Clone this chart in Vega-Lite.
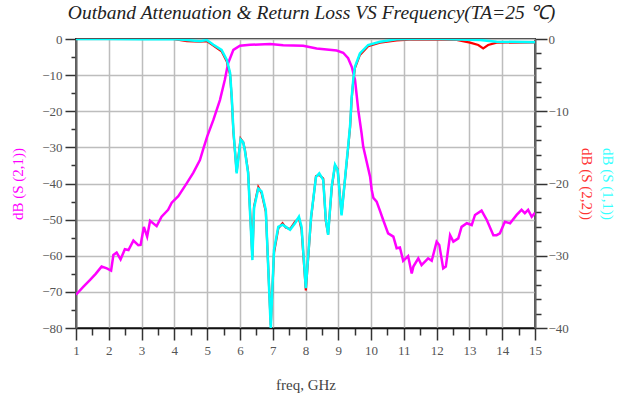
{
  "$schema": "https://vega.github.io/schema/vega-lite/v6.json",
  "width": 459,
  "height": 289,
  "autosize": {"type": "none"},
  "padding": {"left": 76, "top": 39, "right": 91, "bottom": 68},
  "background": "white",
  "title": {
    "text": "Outband Attenuation & Return Loss VS Frequency(TA=25 ℃)",
    "font": "Liberation Serif",
    "fontStyle": "italic",
    "fontWeight": "normal",
    "fontSize": 19.5,
    "color": "#222222",
    "anchor": "middle",
    "dx": 6,
    "offset": 10
  },
  "config": {
    "view": {"stroke": "#333333", "strokeWidth": 2},
    "axis": {
      "labelFont": "Liberation Serif",
      "labelFontSize": 13,
      "labelColor": "#555555",
      "titleFont": "Liberation Serif",
      "titleFontWeight": "normal",
      "domainColor": "#666666",
      "domainWidth": 2,
      "tickColor": "#333333",
      "tickWidth": 1.5,
      "gridColor": "#bdbdbd",
      "gridWidth": 1.5
    }
  },
  "datasets": {
    "s21": [
      {"f": 1.00, "db": -70.8}, {"f": 1.22, "db": -68.6}, {"f": 1.43, "db": -66.7}, {"f": 1.60, "db": -65.0},
      {"f": 1.78, "db": -63.0}, {"f": 1.94, "db": -63.5}, {"f": 2.07, "db": -64.1}, {"f": 2.14, "db": -59.8},
      {"f": 2.24, "db": -59.1}, {"f": 2.36, "db": -61.0}, {"f": 2.49, "db": -58.2}, {"f": 2.60, "db": -58.4},
      {"f": 2.75, "db": -55.8}, {"f": 2.90, "db": -57.1}, {"f": 2.97, "db": -57.0}, {"f": 3.07, "db": -52.0},
      {"f": 3.17, "db": -54.7}, {"f": 3.26, "db": -50.3}, {"f": 3.46, "db": -51.8}, {"f": 3.61, "db": -49.2},
      {"f": 3.81, "db": -47.3}, {"f": 3.92, "db": -45.3}, {"f": 4.12, "db": -43.5}, {"f": 4.38, "db": -39.9},
      {"f": 4.58, "db": -37.0}, {"f": 4.78, "db": -33.5}, {"f": 4.88, "db": -30.5}, {"f": 5.00, "db": -27.0},
      {"f": 5.19, "db": -22.4}, {"f": 5.39, "db": -16.9}, {"f": 5.54, "db": -11.3}, {"f": 5.64, "db": -6.7},
      {"f": 5.80, "db": -3.0}, {"f": 6.00, "db": -1.85}, {"f": 6.31, "db": -1.6}, {"f": 6.92, "db": -1.4},
      {"f": 7.32, "db": -1.7}, {"f": 7.93, "db": -1.9}, {"f": 8.34, "db": -2.6}, {"f": 8.95, "db": -3.2},
      {"f": 9.15, "db": -3.8}, {"f": 9.30, "db": -5.3}, {"f": 9.41, "db": -7.7}, {"f": 9.51, "db": -11.3},
      {"f": 9.61, "db": -19.7}, {"f": 9.71, "db": -26.1}, {"f": 9.76, "db": -29.8}, {"f": 9.97, "db": -38.1},
      {"f": 10.02, "db": -41.8}, {"f": 10.07, "db": -44.0}, {"f": 10.17, "db": -45.0}, {"f": 10.27, "db": -47.5},
      {"f": 10.37, "db": -50.1}, {"f": 10.52, "db": -53.8}, {"f": 10.68, "db": -54.7}, {"f": 10.78, "db": -57.9},
      {"f": 10.88, "db": -57.7}, {"f": 10.98, "db": -61.4}, {"f": 11.13, "db": -60.1}, {"f": 11.24, "db": -64.9},
      {"f": 11.29, "db": -63.0}, {"f": 11.44, "db": -60.7}, {"f": 11.54, "db": -62.6}, {"f": 11.74, "db": -60.7},
      {"f": 11.85, "db": -61.4}, {"f": 12.00, "db": -56.1}, {"f": 12.08, "db": -57.0}, {"f": 12.20, "db": -63.5},
      {"f": 12.28, "db": -63.0}, {"f": 12.41, "db": -54.3}, {"f": 12.51, "db": -56.1}, {"f": 12.66, "db": -55.2},
      {"f": 12.76, "db": -52.0}, {"f": 12.92, "db": -51.0}, {"f": 13.07, "db": -51.5}, {"f": 13.17, "db": -48.7},
      {"f": 13.37, "db": -47.5}, {"f": 13.53, "db": -50.1}, {"f": 13.73, "db": -54.3}, {"f": 13.83, "db": -54.3},
      {"f": 13.93, "db": -53.8}, {"f": 14.08, "db": -50.6}, {"f": 14.24, "db": -51.0}, {"f": 14.44, "db": -48.7},
      {"f": 14.59, "db": -47.3}, {"f": 14.69, "db": -48.2}, {"f": 14.79, "db": -47.3}, {"f": 14.90, "db": -49.2},
      {"f": 15.00, "db": -48.1}
    ],
    "s22": [
      {"f": 1.00, "db": 0}, {"f": 3.96, "db": 0}, {"f": 4.38, "db": -0.3}, {"f": 4.78, "db": -0.35},
      {"f": 4.99, "db": -0.3}, {"f": 5.19, "db": -0.9}, {"f": 5.44, "db": -1.7}, {"f": 5.60, "db": -3.1},
      {"f": 5.70, "db": -4.9}, {"f": 5.75, "db": -8.2}, {"f": 5.80, "db": -12.8}, {"f": 5.90, "db": -18.4},
      {"f": 6.02, "db": -13.8}, {"f": 6.10, "db": -14.3}, {"f": 6.15, "db": -15.3}, {"f": 6.25, "db": -18.4},
      {"f": 6.38, "db": -30.2}, {"f": 6.43, "db": -23.2}, {"f": 6.56, "db": -20.5}, {"f": 6.66, "db": -21.3},
      {"f": 6.79, "db": -23.9}, {"f": 6.94, "db": -39.6}, {"f": 7.04, "db": -29.6}, {"f": 7.17, "db": -26.2},
      {"f": 7.30, "db": -25.5}, {"f": 7.40, "db": -26.1}, {"f": 7.53, "db": -26.3}, {"f": 7.68, "db": -25.3},
      {"f": 7.80, "db": -24.8}, {"f": 7.88, "db": -26.4}, {"f": 8.01, "db": -34.8}, {"f": 8.17, "db": -24.8},
      {"f": 8.32, "db": -19.0}, {"f": 8.42, "db": -18.8}, {"f": 8.54, "db": -19.3}, {"f": 8.62, "db": -25.2},
      {"f": 8.69, "db": -27.0}, {"f": 8.80, "db": -20.6}, {"f": 8.90, "db": -17.5}, {"f": 8.98, "db": -18.0},
      {"f": 9.10, "db": -24.2}, {"f": 9.26, "db": -16.9}, {"f": 9.30, "db": -15.1}, {"f": 9.36, "db": -12.2},
      {"f": 9.41, "db": -8.2}, {"f": 9.46, "db": -5.7}, {"f": 9.51, "db": -4.0}, {"f": 9.66, "db": -2.2},
      {"f": 9.91, "db": -1.0}, {"f": 10.27, "db": -0.5}, {"f": 10.78, "db": -0.2}, {"f": 11.29, "db": -0.05},
      {"f": 12.10, "db": -0.1}, {"f": 12.61, "db": -0.14}, {"f": 13.02, "db": -0.5}, {"f": 13.27, "db": -0.83},
      {"f": 13.42, "db": -1.29}, {"f": 13.57, "db": -0.83}, {"f": 13.83, "db": -0.5}, {"f": 15.00, "db": -0.46}
    ],
    "s11": [
      {"f": 1.00, "db": 0}, {"f": 2.00, "db": 0}, {"f": 3.00, "db": -0.05}, {"f": 3.96, "db": 0},
      {"f": 4.38, "db": -0.14}, {"f": 4.78, "db": -0.3}, {"f": 4.99, "db": -0.14}, {"f": 5.19, "db": -0.8},
      {"f": 5.44, "db": -1.5}, {"f": 5.60, "db": -2.9}, {"f": 5.70, "db": -4.7}, {"f": 5.75, "db": -8.0},
      {"f": 5.80, "db": -12.6}, {"f": 5.90, "db": -18.6}, {"f": 6.02, "db": -13.9}, {"f": 6.10, "db": -14.3},
      {"f": 6.15, "db": -15.4}, {"f": 6.25, "db": -18.6}, {"f": 6.38, "db": -30.6}, {"f": 6.43, "db": -23.4},
      {"f": 6.56, "db": -20.7}, {"f": 6.66, "db": -21.1}, {"f": 6.79, "db": -23.7}, {"f": 6.94, "db": -40.0},
      {"f": 7.04, "db": -29.2}, {"f": 7.17, "db": -26.0}, {"f": 7.30, "db": -25.7}, {"f": 7.40, "db": -26.0},
      {"f": 7.53, "db": -26.4}, {"f": 7.68, "db": -25.5}, {"f": 7.80, "db": -24.6}, {"f": 7.88, "db": -26.0},
      {"f": 8.01, "db": -34.5}, {"f": 8.17, "db": -24.6}, {"f": 8.32, "db": -19.1}, {"f": 8.42, "db": -18.6},
      {"f": 8.54, "db": -19.5}, {"f": 8.62, "db": -25.0}, {"f": 8.69, "db": -27.1}, {"f": 8.80, "db": -20.4},
      {"f": 8.90, "db": -17.4}, {"f": 8.98, "db": -18.1}, {"f": 9.10, "db": -24.4}, {"f": 9.26, "db": -16.7},
      {"f": 9.30, "db": -14.9}, {"f": 9.36, "db": -12.0}, {"f": 9.41, "db": -8.0}, {"f": 9.46, "db": -5.5},
      {"f": 9.51, "db": -3.8}, {"f": 9.66, "db": -2.0}, {"f": 9.91, "db": -0.83}, {"f": 10.27, "db": -0.37},
      {"f": 10.78, "db": -0.05}, {"f": 11.29, "db": 0}, {"f": 12.10, "db": 0}, {"f": 13.32, "db": -0.14},
      {"f": 13.83, "db": -0.37}, {"f": 15.00, "db": -0.46}
    ]
  },
  "layer": [
    {
      "data": {"name": "s21"},
      "mark": {"type": "line", "color": "#ff00ff", "strokeWidth": 2.5, "clip": true},
      "encoding": {
        "x": {
          "field": "f", "type": "quantitative",
          "scale": {"domain": [1, 15], "nice": false, "zero": false},
          "axis": {
            "title": "freq, GHz",
            "titleFontSize": 15,
            "titleColor": "#444444",
            "titlePadding": 20,
            "values": [1, 1.5, 2, 2.5, 3, 3.5, 4, 4.5, 5, 5.5, 6, 6.5, 7, 7.5, 8, 8.5, 9, 9.5, 10, 10.5, 11, 11.5, 12, 12.5, 13, 13.5, 14, 14.5, 15],
            "labelExpr": "datum.value % 1 === 0 ? format(datum.value, 'd') : ''",
            "tickSize": {"condition": {"test": "datum.value % 1 !== 0", "value": 7}, "value": 12},
            "gridOpacity": {"condition": {"test": "datum.value % 1 !== 0", "value": 0}, "value": 1},
            "domainColor": "#111111",
            "domainWidth": 1.5,
            "labelPadding": 4,
            "labelFlush": false
          }
        },
        "y": {
          "field": "db", "type": "quantitative",
          "scale": {"domain": [-80, 0], "nice": false, "zero": false},
          "axis": {
            "orient": "left",
            "title": "dB (S (2,1))",
            "titleColor": "#ff00ff",
            "titleFontSize": 15,
            "titlePadding": 16,
            "values": [-80, -75, -70, -65, -60, -55, -50, -45, -40, -35, -30, -25, -20, -15, -10, -5, 0],
            "labelExpr": "datum.value % 10 === 0 ? datum.label : ''",
            "tickSize": {"condition": {"test": "datum.value % 10 !== 0", "value": 5}, "value": 11},
            "gridOpacity": {"condition": {"test": "datum.value % 10 !== 0", "value": 0}, "value": 1},
            "labelPadding": 3,
            "labelFlush": false
          }
        }
      }
    },
    {
      "data": {"name": "s22"},
      "mark": {"type": "line", "color": "#ff0000", "strokeWidth": 2.2, "clip": true},
      "encoding": {
        "x": {
          "field": "f", "type": "quantitative",
          "scale": {"domain": [1, 15], "nice": false, "zero": false},
          "axis": {
            "title": "freq, GHz",
            "titleFontSize": 15,
            "titleColor": "#444444",
            "titlePadding": 20,
            "values": [1, 1.5, 2, 2.5, 3, 3.5, 4, 4.5, 5, 5.5, 6, 6.5, 7, 7.5, 8, 8.5, 9, 9.5, 10, 10.5, 11, 11.5, 12, 12.5, 13, 13.5, 14, 14.5, 15],
            "labelExpr": "datum.value % 1 === 0 ? format(datum.value, 'd') : ''",
            "tickSize": {"condition": {"test": "datum.value % 1 !== 0", "value": 7}, "value": 12},
            "gridOpacity": {"condition": {"test": "datum.value % 1 !== 0", "value": 0}, "value": 1},
            "domainColor": "#111111",
            "domainWidth": 1.5,
            "labelPadding": 4,
            "labelFlush": false
          }
        },
        "y": {
          "field": "db", "type": "quantitative",
          "scale": {"domain": [-40, 0], "nice": false, "zero": false},
          "axis": {
            "orient": "right",
            "title": "dB (S (2,2))",
            "titleColor": "#ff3333",
            "titleFontSize": 15,
            "titleAngle": 90,
            "titlePadding": 10,
            "grid": false,
            "values": [-40, -38, -36, -34, -32, -30, -28, -26, -24, -22, -20, -18, -16, -14, -12, -10, -8, -6, -4, -2, 0],
            "labelExpr": "datum.value % 10 === 0 ? datum.label : ''",
            "tickSize": {"condition": {"test": "datum.value % 10 !== 0", "value": 6}, "value": 12},
            "labelPadding": 1,
            "labelFlush": false
          }
        }
      }
    },
    {
      "data": {"name": "s11"},
      "mark": {"type": "line", "color": "#00ffff", "strokeWidth": 2.5, "clip": true},
      "encoding": {
        "x": {
          "field": "f", "type": "quantitative",
          "scale": {"domain": [1, 15], "nice": false, "zero": false},
          "axis": {
            "title": "freq, GHz",
            "titleFontSize": 15,
            "titleColor": "#444444",
            "titlePadding": 20,
            "values": [1, 1.5, 2, 2.5, 3, 3.5, 4, 4.5, 5, 5.5, 6, 6.5, 7, 7.5, 8, 8.5, 9, 9.5, 10, 10.5, 11, 11.5, 12, 12.5, 13, 13.5, 14, 14.5, 15],
            "labelExpr": "datum.value % 1 === 0 ? format(datum.value, 'd') : ''",
            "tickSize": {"condition": {"test": "datum.value % 1 !== 0", "value": 7}, "value": 12},
            "gridOpacity": {"condition": {"test": "datum.value % 1 !== 0", "value": 0}, "value": 1},
            "domainColor": "#111111",
            "domainWidth": 1.5,
            "labelPadding": 4,
            "labelFlush": false
          }
        },
        "y": {
          "field": "db", "type": "quantitative",
          "scale": {"domain": [-40, 0], "nice": false, "zero": false},
          "axis": {
            "orient": "right",
            "title": "dB (S (1,1))",
            "titleColor": "#33ffff",
            "titleFontSize": 15,
            "titleAngle": 90,
            "titlePadding": 64,
            "grid": false,
            "domain": false,
            "ticks": false,
            "labels": false
          }
        }
      }
    }
  ],
  "resolve": {"scale": {"y": "independent"}, "axis": {"y": "independent"}}
}
